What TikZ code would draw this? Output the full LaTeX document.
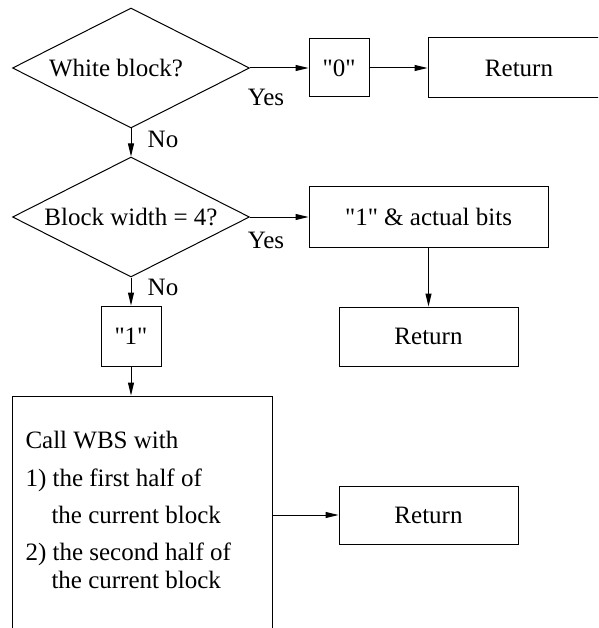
\documentclass[tikz,border=0pt]{standalone}
\usepackage{fontspec}
\newfontfamily\diagfont{LiberationSerif-Regular.ttf}
\usetikzlibrary{shapes.geometric,arrows.meta}
\begin{document}
\begin{tikzpicture}[x=1pt,y=-1pt,
  line width=1pt,
  every node/.style={font=\diagfont\fontsize{25}{30}\selectfont},
  box/.style={draw,rectangle,inner sep=0pt},
  decision/.style={draw,diamond,inner sep=0pt,shape aspect=1.975,
    minimum width=237pt,minimum height=120pt},
  flow/.style={-{Triangle[length=13pt,width=6pt]}},
  lbl/.style={inner sep=0pt},
  line/.style={inner sep=0pt,anchor=base west}]
\useasboundingbox (0,0) rectangle (598,628);
\clip (0,0) rectangle (598,628);

% decisions
\node[decision] (d1) at (131,68) {};
\node[lbl] (t1) at (116,68) {White block?};
\node[decision] (d2) at (131,217) {Block width = 4?};

% boxes
\node[box,minimum width=60pt,minimum height=58pt] (zero) at (339,68) {"0"};
\node[box,minimum width=182pt,minimum height=60pt] (ret1) at (519,68) {Return};
\node[box,minimum width=239pt,minimum height=60pt] (bits) at (428.5,217) {"1" \& actual bits};
\node[box,minimum width=179pt,minimum height=59pt] (ret2) at (428.5,336.5) {Return};
\node[box,minimum width=60pt,minimum height=60pt] (one) at (131,336) {"1"};
\node[box,minimum width=260pt,minimum height=304pt] (big) at (142,548) {};
\node[box,minimum width=179pt,minimum height=58pt] (ret3) at (428.5,515) {Return};

% text of the call box
\node[line] (c1) at (25,448) {Call WBS with};
\node[line] (c2) at (25,486) {1) the first half of};
\node[line] (c3) at (51,523) {the current block};
\node[line] (c4) at (25,560) {2) the second half of};
\node[line] (c5) at (51,588) {the current block};

% branch labels
\node[lbl] (y1) at (266,97) {Yes};
\node[lbl] (n1) at (163,139) {No};
\node[lbl] (y2) at (266,240) {Yes};
\node[lbl] (n2) at (163,287) {No};

% connectors
\draw[flow] (d1.east) -- (zero.west);
\draw[flow] (zero.east) -- (ret1.west);
\draw[flow] (d1.south) -- (d2.north);
\draw[flow] (d2.east) -- (bits.west);
\draw[flow] (bits.south) -- (ret2.north);
\draw[flow] (d2.south) -- (one.north);
\draw[flow] (one.south) -- (one.south |- big.north);
\draw[flow] (big.east |- ret3.west) -- (ret3.west);
\end{tikzpicture}
\end{document}
